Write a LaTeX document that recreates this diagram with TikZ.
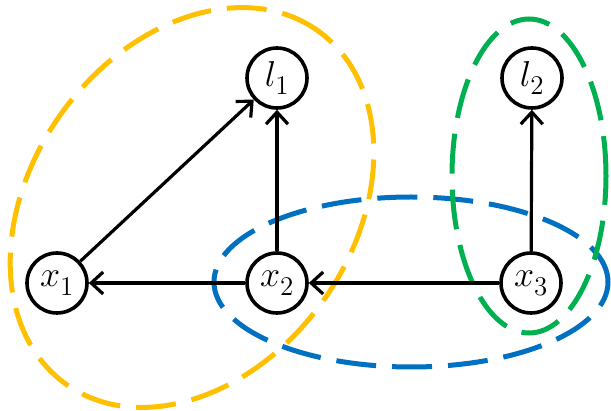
\documentclass[tikz,border=0pt]{standalone}
\usetikzlibrary{arrows.meta}
% scalable math fonts for large labels
\DeclareFontShape{OML}{cmm}{m}{it}{<-7>cmmi5<7-10>cmmi7<10-12>cmmi10<12->cmmi12}{}
\DeclareFontShape{OT1}{cmr}{m}{n}{<-7>cmr5<7-10>cmr7<10-12>cmr10<12->cmr12}{}
\DeclareMathSizes{36}{36}{27}{20}
\definecolor{grpyellow}{HTML}{FFC000}
\definecolor{grpblue}{HTML}{0070C0}
\definecolor{grpgreen}{HTML}{00B050}
\begin{document}
\begin{tikzpicture}[x=1pt,y=-1pt,
  var/.style={circle,draw=black,line width=3.6pt,minimum size=60pt,inner sep=0pt,
    fill=white,font=\fontsize{36}{36}\selectfont},
  link/.style={line width=3.2pt,-{Straight Barb[length=12pt,width=22pt]}},
  group/.style={line width=5pt,dash pattern=on 40pt off 16pt}]
\useasboundingbox (0,0) rectangle (611,411);

% dashed groupings
\draw[group,grpyellow,rotate around={54.5:(192,207.5)}]
  (192,207.5) ellipse [x radius=217pt,y radius=161pt];
\draw[group,grpblue] (411,282) ellipse [x radius=197pt,y radius=85pt];
\draw[group,grpgreen] (529,176) ellipse [x radius=77pt,y radius=157pt];

% variables
\node[var] (l1) at (277,78) {$l_1$};
\node[var] (l2) at (532,78) {$l_2$};
\node[var] (x1) at (57,283) {$x_1$};
\node[var] (x2) at (277,283) {$x_2$};
\node[var] (x3) at (531,283) {$x_3$};

% dependencies
\draw[link] (x1) -- (l1);
\draw[link] (x2) -- (l1);
\draw[link] (x3) -- (l2);
\draw[link] (x2) -- (x1);
\draw[link] (x3) -- (x2);
\end{tikzpicture}
\end{document}
